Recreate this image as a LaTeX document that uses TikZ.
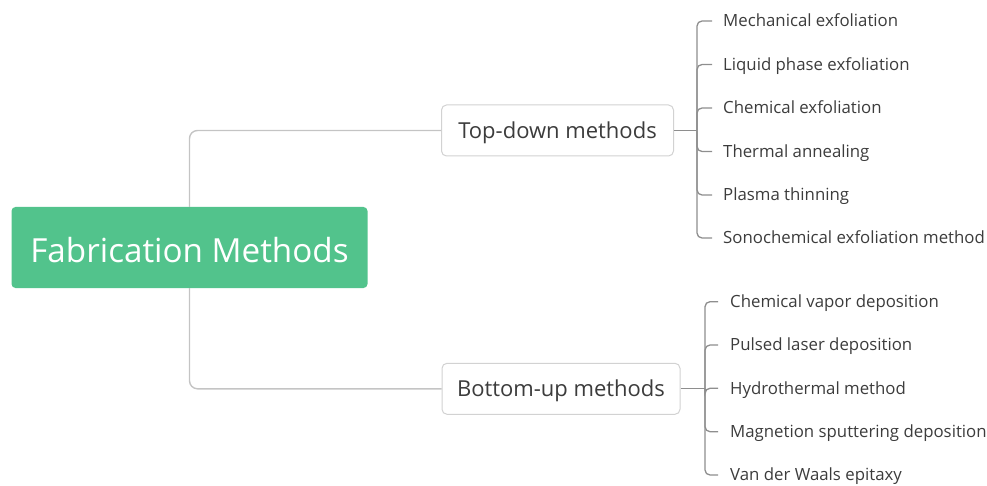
\documentclass[tikz,border=0pt]{standalone}
\usepackage{fontspec}
\setmainfont{Open Sans}
\definecolor{rootgreen}{HTML}{52C38C}
\definecolor{boxline}{HTML}{D2D2D2}
\definecolor{rootconn}{HTML}{C4C4C4}
\definecolor{leafconn}{HTML}{8E8E8E}
\definecolor{txt}{HTML}{3C3C3C}
\begin{document}
\begin{tikzpicture}[x=1pt,y=-1pt,
  rootbox/.style={fill=rootgreen,draw=none,rounded corners=4pt,text=white,
    minimum width=356pt,minimum height=81pt,inner sep=0pt,
    font=\fontsize{33.2}{38}\selectfont,text height=29.5pt,text depth=0pt},
  midbox/.style={draw=boxline,line width=1pt,fill=white,rounded corners=5pt,text=txt,
    minimum height=51pt,inner sep=0pt,
    font=\fontsize{22}{26}\selectfont,text height=15.7pt,text depth=0pt},
  leaf/.style={anchor=west,inner ysep=0pt,text=txt,
    font=\fontsize{16.8}{19}\selectfont,text height=11.9pt,text depth=0pt},
  rootline/.style={draw=rootconn,line width=1.4pt,rounded corners=8pt},
  leafline/.style={draw=leafconn,line width=1.3pt,rounded corners=5pt}]
\useasboundingbox (0,0) rectangle (987,486);

\node[rootbox] (root) at (189.5,247.5) {Fabrication Methods};
\node[midbox,minimum width=232pt] (td) at (557.5,130.5) {Top-down methods};
\node[midbox,minimum width=238pt] (bu) at (561,388.8) {Bottom-up methods};

\draw[rootline] (root.north) |- (td.west);
\draw[rootline] (root.south) |- (bu.west);

\coordinate (tdhub) at (697,130.5);
\coordinate (buhub) at (705,388.8);

\begin{scope}[every node/.append style={leaf,inner xsep=11pt}]
\node (t1) at (712,21) {Mechanical exfoliation};
\node (t2) at (712,64.5) {Liquid phase exfoliation};
\node (t3) at (712,108) {Chemical exfoliation};
\node (t4) at (712,151.5) {Thermal annealing};
\node (t5) at (712,195) {Plasma thinning};
\node (t6) at (712,238) {Sonochemical exfoliation method};
\end{scope}
\begin{scope}[every node/.append style={leaf,inner xsep=12pt}]
\node (b1) at (718,301.7) {Chemical vapor deposition};
\node (b2) at (718,345) {Pulsed laser deposition};
\node (b3) at (718,388.3) {Hydrothermal method};
\node (b4) at (718,431.7) {Magnetion sputtering deposition};
\node (b5) at (718,475) {Van der Waals epitaxy};
\end{scope}

\draw[leafline] (td.east) -- (tdhub);
\foreach \n in {t1,t2,t3,t4,t5,t6} \draw[leafline] (tdhub) |- (\n.west);
\draw[leafline] (bu.east) -- (buhub);
\foreach \n in {b1,b2,b3,b4,b5} \draw[leafline] (buhub) |- (\n.west);
\end{tikzpicture}
\end{document}
